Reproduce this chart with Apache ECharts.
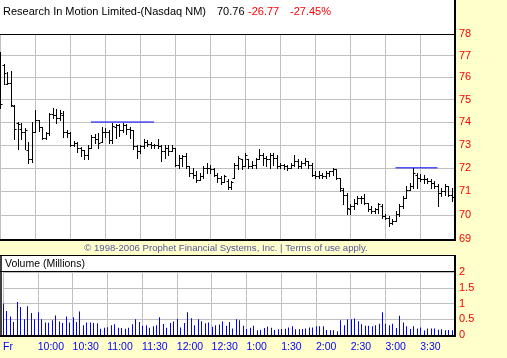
<!DOCTYPE html>
<html><head><meta charset="utf-8">
<script src="https://cdn.jsdelivr.net/npm/echarts@6/dist/echarts.min.js"></script>
<style>html,body{margin:0;padding:0;background:#ffffcc;}#c{width:507px;height:358px;}</style>
</head><body><div id="c"></div>
<script>
// 3-minute slots from 9:30 to 16:00 (131 slot boundaries)
const slotCount = 131;
const timeTickLabels = ['Fr','10:00','10:30','11:00','11:30','12:00','12:30','1:00','1:30','2:00','2:30','3:00','3:30',''];
const priceTicks = [69,70,71,72,73,74,75,76,77,78];
const volumeTicks = [0,0.5,1,1.5,2];

const opens = [77.0,76.57,75.72,75.73,74.71,73.94,73.68,73.57,72.76,72.39,
73.57,74.09,73.8,73.28,73.5,74.35,74.32,74.17,74.32,73.57,
73.5,72.99,73.06,72.84,72.76,72.54,72.84,73.35,73.25,73.13,
73.57,73.57,73.21,73.78,73.85,73.63,73.85,73.71,73.63,72.93,
72.72,72.93,73.1,73.04,72.97,72.97,72.93,72.72,72.86,72.72,
72.86,72.14,72.42,72.49,72.07,71.78,71.71,71.49,71.63,72.0,
72.0,71.93,71.71,71.56,71.41,71.45,71.2,71.57,72.14,72.36,
72.07,72.36,72.07,72.14,72.36,72.57,72.43,72.36,72.57,72.43,
72.07,72.14,72.07,72.0,72.14,72.29,72.07,72.21,72.29,72.14,
71.71,71.64,71.71,71.64,71.79,71.86,71.93,71.57,71.07,70.86,
70.24,70.38,70.51,70.72,70.72,70.51,70.24,70.17,70.24,70.38,
69.96,69.89,69.68,69.75,70.03,70.38,70.72,71.07,71.21,71.71,
71.57,71.54,71.5,71.43,71.36,71.21,70.93,71.0,71.21,70.86];
const highs = [77.16,76.62,76.25,76.28,74.75,73.99,73.94,73.72,73.13,74.02,
74.55,74.09,73.8,73.57,74.4,74.63,74.6,74.55,74.48,73.65,
73.57,73.16,73.13,72.91,72.76,72.99,73.43,73.46,73.5,73.8,
73.72,73.65,73.94,73.93,73.93,73.96,73.93,73.78,73.63,72.97,
72.97,73.26,73.19,73.1,73.04,73.26,72.97,72.97,72.97,72.97,
72.86,72.56,72.56,72.63,72.07,72.0,71.85,71.78,72.07,72.21,
72.14,72.0,71.78,71.63,71.71,71.5,71.45,72.21,72.5,72.36,
72.64,72.36,72.29,72.43,72.81,72.64,72.5,72.64,72.64,72.57,
72.21,72.17,72.14,72.21,72.54,72.36,72.29,72.43,72.29,72.21,
71.86,71.86,71.79,71.86,71.86,72.0,71.93,71.57,71.14,70.93,
70.44,70.65,70.79,70.79,70.89,70.51,70.38,70.3,70.51,70.44,
70.03,69.96,69.82,70.17,70.44,70.79,71.21,71.36,72.0,71.79,
71.72,71.69,71.57,71.5,71.43,71.29,71.14,71.29,71.21,71.14];
const lows = [74.63,75.69,75.69,74.71,73.25,72.81,73.25,72.81,72.19,72.24,
73.57,73.6,73.25,73.25,73.43,74.17,73.94,74.09,73.35,73.35,
72.96,72.96,72.69,72.51,72.39,72.39,72.84,73.06,72.84,73.13,
73.35,73.06,73.06,73.29,73.37,73.56,73.49,73.29,72.8,72.42,
72.65,72.86,72.93,72.86,72.86,72.86,72.29,72.42,72.56,72.72,
72.07,72.0,72.07,72.0,71.63,71.56,71.41,71.49,71.56,71.78,
71.78,71.63,71.41,71.29,71.41,71.1,71.1,71.57,71.93,71.93,
72.07,72.0,72.0,72.0,72.36,72.14,72.07,72.0,72.14,72.0,
72.0,71.93,71.89,72.0,72.07,72.0,72.0,72.14,72.0,71.64,
71.57,71.57,71.57,71.57,71.64,71.71,71.5,71.0,70.44,70.03,
70.03,70.24,70.44,70.51,70.47,70.17,70.1,70.1,70.1,69.86,
69.82,69.54,69.61,69.75,69.96,70.3,70.72,71.07,71.14,71.14,
71.43,71.36,71.36,71.14,71.14,70.38,70.79,70.86,70.79,70.58];
const closes = [74.78,76.2,75.75,74.75,73.68,73.9,73.57,73.65,72.39,73.57,
74.09,73.8,73.28,73.5,74.35,74.32,74.17,74.4,73.57,73.5,
72.99,73.06,72.84,72.76,72.54,72.84,73.35,73.25,73.06,73.57,
73.57,73.21,73.84,73.85,73.63,73.85,73.71,73.63,72.93,72.72,
72.93,73.1,73.04,72.97,72.97,72.93,72.72,72.86,72.72,72.86,
72.14,72.42,72.49,72.07,71.78,71.71,71.49,71.63,72.0,72.0,
71.93,71.71,71.56,71.41,71.63,71.2,71.4,72.14,72.43,72.07,
72.57,72.07,72.14,72.36,72.57,72.43,72.36,72.57,72.43,72.07,
72.14,72.07,72.0,72.14,72.29,72.07,72.21,72.29,72.14,71.71,
71.64,71.71,71.64,71.79,71.86,71.93,71.57,71.14,70.86,70.3,
70.38,70.51,70.72,70.72,70.51,70.24,70.17,70.24,70.44,69.96,
69.89,69.68,69.75,70.03,70.38,70.72,71.07,71.21,71.79,71.57,
71.54,71.5,71.43,71.36,71.21,70.93,71.0,71.21,70.86,70.76];
const volumes = [1.0,
0.76,0.59,0.41,1.05,0.89,0.5,0.91,0.7,0.5,0.72,
0.5,0.4,0.39,0.47,0.62,0.43,0.38,0.59,0.4,0.56,
0.41,0.75,0.31,0.4,0.4,0.38,0.37,0.2,0.23,0.25,
0.31,0.34,0.23,0.22,0.2,0.23,0.34,0.5,0.41,0.29,
0.31,0.23,0.28,0.31,0.56,0.35,0.23,0.38,0.43,0.51,
0.24,0.38,0.72,0.53,0.31,0.5,0.44,0.37,0.4,0.26,
0.31,0.33,0.43,0.29,0.41,0.21,0.5,0.47,0.29,0.19,
0.23,0.29,0.15,0.17,0.22,0.26,0.23,0.16,0.18,0.19,
0.2,0.24,0.28,0.18,0.18,0.19,0.21,0.24,0.24,0.28,
0.28,0.28,0.16,0.15,0.15,0.12,0.47,0.31,0.49,0.5,
0.52,0.44,0.34,0.29,0.29,0.28,0.31,0.36,0.72,0.36,
0.31,0.36,0.22,0.61,0.4,0.28,0.19,0.28,0.21,0.24,
0.14,0.21,0.21,0.21,0.17,0.18,0.15,0.16,
0.15];
const resistanceHigh = [[26,74],[44,74]];
const resistanceLow = [[113,72],[125,72]];

const categories = Array.from({length: slotCount}, (_, i) => String(i));
const ohlc = opens.map((o, i) => [i, o, highs[i], lows[i], closes[i]]);
const vol = volumes.map((v, i) => [i, v]);

const FONT = '"Liberation Sans", Arial, sans-serif';
const GRID_C = '#c0c0c0';

const chart = echarts.init(document.getElementById('c'), null, {renderer: 'canvas'});
const xCommon = {
  type: 'category', data: categories, boundaryGap: false,
  axisTick: {show: false, interval: 9},
  splitLine: {show: true, interval: 9, lineStyle: {color: GRID_C, width: 1}},
  axisLine: {show: false}
};
chart.setOption({
  animation: false,
  backgroundColor: '#ffffcc',
  grid: [
    {left: 0, top: 34, width: 455, height: 205},
    {left: 0, top: 272, width: 455, height: 63}
  ],
  xAxis: [
    Object.assign({}, xCommon, {gridIndex: 0, axisLabel: {show: false, interval: 9}}),
    Object.assign({}, xCommon, {gridIndex: 1, axisLabel: {
      show: true, interval: 9, align: 'left', margin: 7, color: '#0000ff', fontSize: 10.5, fontFamily: FONT,
      formatter: (v, i) => (i % 10 === 0 ? (timeTickLabels[i / 10] || '') : '')
    }})
  ],
  yAxis: [
    {type: 'log', logBase: 10, gridIndex: 0, position: 'right', min: 69, max: 78,
      axisLine: {show: false},
      axisTick: {show: false, customValues: priceTicks},
      axisLabel: {customValues: priceTicks, color: '#ff0000', fontSize: 11, fontFamily: FONT, margin: 4,
        formatter: v => String(Math.round(v))},
      splitLine: {show: true, lineStyle: {color: GRID_C, width: 1}}},
    {type: 'value', gridIndex: 1, position: 'right', min: 0, max: 2, interval: 0.5,
      axisLine: {show: false}, axisTick: {show: false},
      axisLabel: {color: '#ff0000', fontSize: 11, fontFamily: FONT, margin: 4},
      splitLine: {show: true, lineStyle: {color: GRID_C, width: 1}}}
  ],
  series: [
    {type: 'custom', xAxisIndex: 0, yAxisIndex: 0, data: ohlc, clip: true,
      encode: {x: 0, y: [1, 2, 3, 4]},
      renderItem: function (params, api) {
        const k = api.value(0);
        const pO = api.coord([k, api.value(1)]);
        const pH = api.coord([k, api.value(2)]);
        const pL = api.coord([k, api.value(3)]);
        const pC = api.coord([k, api.value(4)]);
        const x = Math.round(pH[0]) + 0.5;
        const yo = Math.round(pO[1]) + 0.5, yc = Math.round(pC[1]) + 0.5;
        const st = {stroke: '#000', lineWidth: 1};
        return {type: 'group', children: [
          {type: 'line', shape: {x1: x, y1: Math.round(pH[1]), x2: x, y2: Math.round(pL[1]) + 1}, style: st},
          {type: 'line', shape: {x1: x - 2, y1: yo, x2: x, y2: yo}, style: st},
          {type: 'line', shape: {x1: x, y1: yc, x2: x + 2, y2: yc}, style: st}
        ]};
      }},
    {type: 'line', xAxisIndex: 0, yAxisIndex: 0, data: resistanceHigh, showSymbol: false, silent: true,
      lineStyle: {color: '#0000ff', width: 1}},
    {type: 'line', xAxisIndex: 0, yAxisIndex: 0, data: resistanceLow, showSymbol: false, silent: true,
      lineStyle: {color: '#0000ff', width: 1}},
    {type: 'custom', xAxisIndex: 1, yAxisIndex: 1, data: vol, encode: {x: 0, y: 1},
      renderItem: function (params, api) {
        const k = api.value(0);
        const p0 = api.coord([k, 0]);
        const p1 = api.coord([k, api.value(1)]);
        const x = Math.round(p0[0]);
        return {type: 'rect', shape: {x: x, y: p1[1], width: 1, height: p0[1] - p1[1]}, style: {fill: '#0000ff'}};
      }}
  ],
  graphic: [
    {type: 'rect', z: -10, silent: true, shape: {x: 0, y: 0, width: 455, height: 240}, style: {fill: '#fff'}},
    {type: 'rect', z: -10, silent: true, shape: {x: 0, y: 255, width: 455, height: 81}, style: {fill: '#fff'}},
    {type: 'line', z: 100, silent: true, shape: {x1: 0, y1: 34.5, x2: 455, y2: 34.5}, style: {stroke: '#000', lineWidth: 1}},
    {type: 'line', z: 100, silent: true, shape: {x1: 455, y1: 0, x2: 455, y2: 241}, style: {stroke: '#000', lineWidth: 2}},
    {type: 'line', z: 100, silent: true, shape: {x1: 0, y1: 240, x2: 456, y2: 240}, style: {stroke: '#000', lineWidth: 2}},
    {type: 'line', z: 100, silent: true, shape: {x1: 0, y1: 255.5, x2: 455, y2: 255.5}, style: {stroke: '#000', lineWidth: 1}},
    {type: 'line', z: 100, silent: true, shape: {x1: 0, y1: 271.5, x2: 455, y2: 271.5}, style: {stroke: '#000', lineWidth: 1}},
    {type: 'line', z: 100, silent: true, shape: {x1: 1, y1: 255, x2: 1, y2: 337}, style: {stroke: '#000', lineWidth: 1.5}},
    {type: 'line', z: 100, silent: true, shape: {x1: 455, y1: 255, x2: 455, y2: 337}, style: {stroke: '#000', lineWidth: 2}},
    {type: 'line', z: 100, silent: true, shape: {x1: 0, y1: 336, x2: 456, y2: 336}, style: {stroke: '#000', lineWidth: 2}},
    {type: 'text', z: 100, silent: true, x: 3, y: 12, style: {text: 'Research In Motion Limited-(Nasdaq NM)', font: '11px ' + FONT, fill: '#000', verticalAlign: 'middle'}},
    {type: 'text', z: 100, silent: true, x: 217, y: 12, style: {text: '70.76', font: '11px ' + FONT, fill: '#000', verticalAlign: 'middle'}},
    {type: 'text', z: 100, silent: true, x: 248, y: 12, style: {text: '-26.77', font: '11px ' + FONT, fill: '#ff0000', verticalAlign: 'middle'}},
    {type: 'text', z: 100, silent: true, x: 290, y: 12, style: {text: '-27.45%', font: '11px ' + FONT, fill: '#ff0000', verticalAlign: 'middle'}},
    {type: 'text', z: 100, silent: true, x: 5, y: 264, style: {text: 'Volume (Millions)', font: '10.5px ' + FONT, fill: '#000', verticalAlign: 'middle'}},
    {type: 'text', z: 100, silent: true, x: 226, y: 248, style: {text: '\u00a9 1998-2006 Prophet Financial Systems, Inc. | Terms of use apply.', font: '9.6px ' + FONT, fill: '#55559a', align: 'center', verticalAlign: 'middle'}}
  ]
});
</script></body></html>
